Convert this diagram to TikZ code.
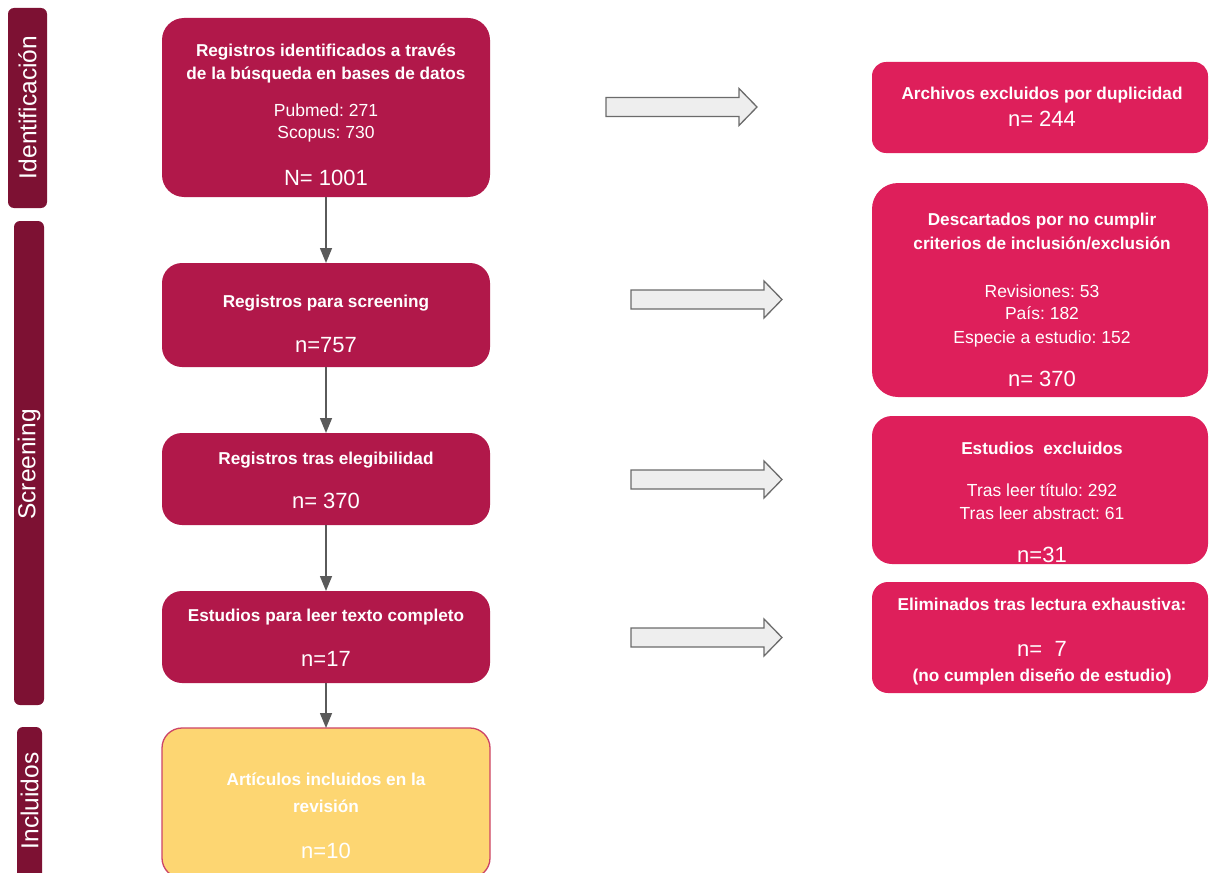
\documentclass[tikz,border=0pt]{standalone}
\usepackage{fontspec}
\setmainfont{Liberation Sans}
\usetikzlibrary{arrows.meta}
\frenchspacing
\definecolor{barcol}{HTML}{7D1133}
\definecolor{maincol}{HTML}{B1184A}
\definecolor{rightcol}{HTML}{DE1F5B}
\definecolor{yelcol}{HTML}{FDD672}
\definecolor{yelborder}{HTML}{CC4466}
\definecolor{arrcol}{HTML}{5A5A5A}
\definecolor{blockfill}{HTML}{EEEEEE}
\definecolor{blockdraw}{HTML}{6B6B6B}
\begin{document}
\begin{tikzpicture}[x=1pt,y=-1pt,
  phasebar/.style={fill=barcol,draw=none,rounded corners=6pt,inner sep=0pt,outer sep=0pt,anchor=north west},
  phasetxt/.style={text=white,rotate=90,inner sep=0pt,font=\fontsize{24.5}{26}\selectfont},
  mainbox/.style={fill=maincol,draw=none,rounded corners=20pt,inner sep=0pt,outer sep=0pt,anchor=north west,minimum width=328pt},
  rightbox/.style={fill=rightcol,draw=none,rounded corners=18pt,inner sep=0pt,outer sep=0pt,anchor=north west,minimum width=336pt},
  yelbox/.style={fill=yelcol,draw=yelborder,line width=1.3pt,rounded corners=20pt,inner sep=0pt,outer sep=0pt,anchor=north west,minimum width=328pt},
  hd/.style={text=white,anchor=base,inner sep=0pt,font=\fontsize{17.2}{20}\selectfont\bfseries},
  tx/.style={text=white,anchor=base,inner sep=0pt,font=\fontsize{17.5}{20}\selectfont},
  num/.style={text=white,anchor=base,inner sep=0pt,font=\fontsize{22}{24}\selectfont},
  flow/.style={draw=arrcol,line width=1.5pt,-{Triangle[width=12pt,length=15pt]}},
  blockstyle/.style={fill=blockfill,draw=blockdraw,line width=1.3pt,line join=miter},
  blockarr/.pic={\draw[blockstyle] (0,-9.5) -- (133,-9.5) -- (133,-18.5) -- (151,0) -- (133,18.5) -- (133,9.5) -- (0,9.5) -- cycle;}
]
\useasboundingbox (0,0) rectangle (1209,872);

% phase bars
\node[phasebar,minimum width=39pt,minimum height=200pt] (barid) at (8,8) {};
\node[phasetxt] (txtid) at (27.5,107.5) {Identificación};
\node[phasebar,minimum width=30pt,minimum height=484pt] (barsc) at (14,221) {};
\node[phasetxt] (txtsc) at (29,464.5) {Screening};
\node[phasebar,minimum width=25pt,minimum height=160pt] (barin) at (17,727) {};
\node[phasetxt] (txtin) at (29.5,801) {Incluidos};

% main boxes
\node[mainbox,minimum height=179pt,rounded corners=22pt] (b1) at (162,18) {};
\node[hd] (b1a) at (326,57) {Registros identificados a través};
\node[hd] (b1b) at (326,80) {de la búsqueda en bases de datos};
\node[tx] (b1c) at (326,117) {Pubmed: 271};
\node[tx] (b1d) at (326,139) {Scopus: 730};
\node[num] (b1e) at (326,185) {N= 1001};

\node[mainbox,minimum height=104pt] (b2) at (162,263) {};
\node[hd] (b2a) at (326,307) {Registros para screening};
\node[num] (b2b) at (326,352) {n=757};

\node[mainbox,minimum height=92pt] (b3) at (162,433) {};
\node[hd] (b3a) at (326,464) {Registros tras elegibilidad};
\node[num] (b3b) at (326,508) {n= 370};

\node[mainbox,minimum height=92pt] (b4) at (162,591) {};
\node[hd] (b4a) at (326,621) {Estudios para leer texto completo};
\node[num] (b4b) at (326,666) {n=17};

\node[yelbox,minimum height=150pt] (b5) at (162,728) {};
\node[hd] (b5a) at (326,785) {Artículos incluidos en la};
\node[hd] (b5b) at (326,812) {revisión};
\node[num] (b5c) at (326,858) {n=10};

% flow arrows
\draw[flow] (b1.south) -- (b2.north);
\draw[flow] (b2.south) -- (b3.north);
\draw[flow] (b3.south) -- (b4.north);
\draw[flow] (b4.south) -- (b5.north);

% right boxes
\node[rightbox,minimum height=91pt,rounded corners=14pt] (r1) at (872,62) {};
\node[hd] (r1a) at (1042,100) {Archivos excluidos por duplicidad};
\node[num] (r1b) at (1042,127) {n= 244};

\node[rightbox,minimum height=214pt,rounded corners=26pt] (r2) at (872,183) {};
\node[hd] (r2a) at (1042,225) {Descartados por no cumplir};
\node[hd] (r2b) at (1042,249) {criterios de inclusión/exclusión};
\node[tx] (r2c) at (1042,297) {Revisiones: 53};
\node[tx] (r2d) at (1042,319) {País: 182};
\node[tx] (r2e) at (1042,343) {Especie a estudio: 152};
\node[num] (r2f) at (1042,386) {n= 370};

\node[rightbox,minimum height=148pt,rounded corners=20pt] (r3) at (872,416) {};
\node[hd] (r3a) at (1042,454) {Estudios\ \ excluidos};
\node[tx] (r3b) at (1042,496) {Tras leer título: 292};
\node[tx] (r3c) at (1042,519) {Tras leer abstract: 61};
\node[num] (r3d) at (1042,562) {n=31};

\node[rightbox,minimum height=111pt,rounded corners=16pt] (r4) at (872,582) {};
\node[hd] (r4a) at (1042,610) {Eliminados tras lectura exhaustiva:};
\node[num] (r4b) at (1042,656) {n=\ \ 7};
\node[hd] (r4c) at (1042,681) {(no cumplen diseño de estudio)};

% block arrows
\pic at (606,107) {blockarr};
\pic at (631,299.5) {blockarr};
\pic at (631,479.5) {blockarr};
\pic at (631,637.5) {blockarr};
\end{tikzpicture}
\end{document}
